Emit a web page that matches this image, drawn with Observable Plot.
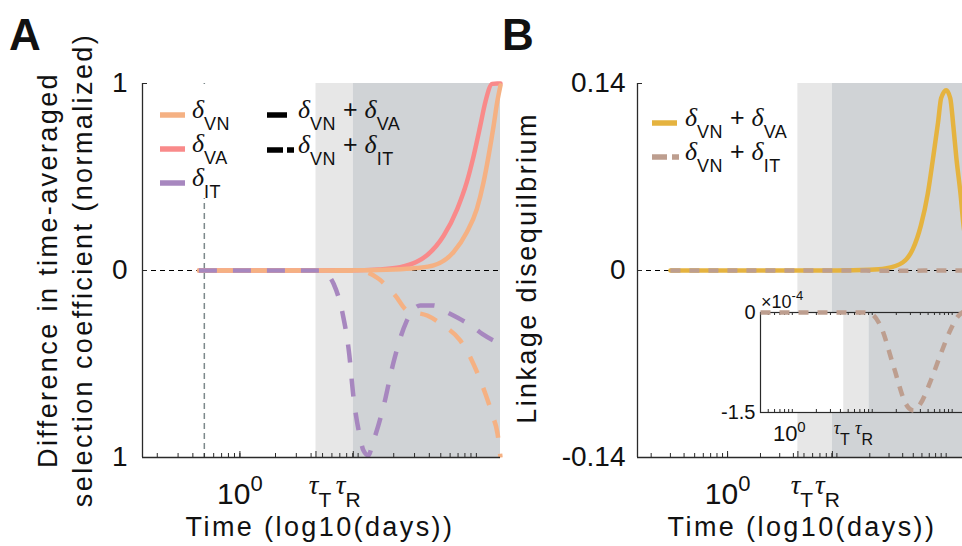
<!DOCTYPE html>
<html><head><meta charset="utf-8">
<script src="https://cdn.jsdelivr.net/npm/d3@7"></script>
<script src="https://cdn.jsdelivr.net/npm/@observablehq/plot@0.6"></script>
<style>
html,body{margin:0;padding:0;background:#fff;}
#fig{position:relative;width:962px;height:546px;overflow:hidden;background:#fff;}
#fig svg{max-width:none;position:absolute;}
</style></head>
<body><div id="fig"></div>
<script>
// ================= DATA =================
const tauT = 4.4, tauR = 9.1;          // transition times (days)
const tMark = 0.5;                      // dashed vertical marker (days)
const xDomain = [0.15, 160];
const insetXDomain = [0.4, 160];

// Panel A — solid: scenario δVN + δVA
const tA_VN_solid = [0.45, 3, 10, 20, 31, 43.5, 64, 83, 101, 115, 127, 140, 150, 160];
const vA_VN_solid = [0, 0, 0.001, 0.005, 0.013, 0.027, 0.098, 0.205, 0.33, 0.472, 0.615, 0.775, 0.9, 0.99];
const tA_VA_solid = [0.45, 3, 10, 15, 22.7, 31, 38, 53, 69, 83, 95, 108, 119, 136, 150, 160];
const vA_VA_solid = [0, 0, 0.002, 0.006, 0.018, 0.045, 0.08, 0.187, 0.33, 0.472, 0.615, 0.775, 0.9, 0.998, 1.0, 1.0];
// Panel A — dashed: scenario δVN + δIT
const tA_VN_dash = [0.45, 3, 10, 11.9, 14.8, 20.6, 26, 38.4, 52.5, 73, 89, 104, 119, 137, 151, 160];
const vA_VN_dash = [0, 0, 0, -0.01, -0.043, -0.134, -0.214, -0.241, -0.294, -0.374, -0.465, -0.561, -0.658, -0.775, -0.872, -1.0];
const tA_IT_dash = [0.45, 3, 4.9, 5.5, 6.2, 7.4, 8.4, 9.1, 10.3, 11.1, 12.2, 13.3, 16.6, 19.7, 25.5, 33.5, 43.5, 52.8, 94, 112, 160];
const vA_IT_dash = [0, 0, 0, -0.02, -0.071, -0.232, -0.445, -0.668, -0.882, -0.963, -0.989, -0.923, -0.713, -0.503, -0.276, -0.187, -0.187, -0.214, -0.303, -0.339, -0.392];

// Panel B — linkage disequilibrium
const tB_VA = [0.3, 10, 20, 27.8, 40, 49.5, 58.8, 68, 75.8, 84.3, 89.9, 100, 109, 116, 124, 135, 144, 160];
const vB_VA = [0, 0, 0.0005, 0.0015, 0.006, 0.016, 0.034, 0.058, 0.084, 0.111, 0.129, 0.135, 0.129, 0.109, 0.084, 0.058, 0.034, 0.012];
const tB_IT = [0.3, 5, 8.8, 12.8, 18.6, 26.3, 29, 33, 40, 54, 72, 96, 116, 134, 160];
const vB_IT_e4 = [0, 0, 0, -0.21, -0.82, -1.37, -1.44, -1.47, -1.37, -1.02, -0.62, -0.25, -0.07, 0, 0.03]; // ×10^-4
const ldScale = 1e-4;

// ticks & labels
const xTicksMain = [1, tauT, tauR];
const xTickLabels = ["10^0", "tauT", "tauR"];
const yTicksA = [-1, 0, 1];
const yTickLabelsA = ["1", "0", "1"];
const yTicksB = [-0.14, 0, 0.14];
const yTickLabelsB = ["-0.14", "0", "0.14"];
const yTicksInset = [-1.5, 0];
const yTickLabelsInset = ["-1.5", "0"];

// ================= STYLE =================
const C = {vn: "#f5b183", va: "#f98a8a", it: "#a787bf", ldVA: "#e5b33f", ldIT: "#bd9e8f",
           light: "#e7e7e7", dark: "#d0d3d6", axis: "#2a2a2a", mark: "#7d898b"};
const sans = "'Liberation Sans', Arial, Helvetica, sans-serif";
const serif = "'Liberation Serif', 'Times New Roman', serif";
const fig = document.getElementById("fig");
const NS = "http://www.w3.org/2000/svg";

function place(el, left, top) { el.style.left = left + "px"; el.style.top = top + "px"; fig.appendChild(el); return el; }
function logMinor(dom) { const out = []; for (let k = -2; k <= 3; k++) for (let n = 1; n <= 9; n++) { const v = +(n * 10 ** k).toPrecision(6); if (v > dom[0] * 1.0001 && v < dom[1] * 0.9999) out.push(v); } return out; }
const rows = (t, v, s = 1) => t.map((x, i) => ({t: x, v: v[i] * s}));
const lineOf = (t, v, o, s = 1) => Plot.line(rows(t, v, s), {x: "t", y: "v", curve: "monotone-x", strokeWidth: 4.5, ...o});
const label = (ticks, labels) => d => labels[ticks.indexOf(d)];
// x tick labels as text marks anchored at the frame bottom
const xLabels = (fs) => Plot.text(xTicksMain, {x: xTicksMain, text: xTickLabels, frameAnchor: "bottom", fontSize: fs});

function richX(svg, specs) {
  svg.querySelectorAll("text").forEach(el => {
    const key = el.textContent.trim();
    if (!Object.prototype.hasOwnProperty.call(specs, key)) return;
    const s = specs[key];
    while (el.firstChild) el.removeChild(el.firstChild);
    el.removeAttribute("dy");
    el.setAttribute("y", s.y); el.setAttribute("x", s.x || 0);
    el.setAttribute("text-anchor", "middle");
    for (const p of s.parts) { const ts = document.createElementNS(NS, "tspan"); ts.textContent = p.t; for (const k in p) if (k !== "t") ts.setAttribute(k, p[k]); el.appendChild(ts); }
  });
}
const tau = (s, dx, big) => ({y: big ? 36 : 21, x: dx, parts: [
  {t: "τ", "font-family": serif, "font-style": "italic", "font-size": big ? 27 : 18},
  {t: s, "font-size": big ? 21 : 16, dy: big ? 13 : 11}]});
const specMain = {
  "10^0": {y: 46, parts: [{t: "10", "font-size": 30}, {t: "0", "font-size": 22, dy: -13}]},
  "tauT": tau("T", 4, true), "tauR": tau("R", -5, true)};
const specInset = {
  "10^0": {y: 28, x: -3, parts: [{t: "10", "font-size": 22}, {t: "0", "font-size": 15, dy: -9}]},
  "tauT": tau("T", -2, false), "tauR": tau("R", -5, false)};

// ================= PANEL A =================
const fA = {w: 358, h: 374};
const plotA = Plot.plot({
  width: 510, height: 546, marginLeft: 142, marginRight: 10, marginTop: 83, marginBottom: 89,
  x: {type: "log", domain: xDomain, axis: null}, y: {domain: [-1, 1]},
  style: {background: "transparent", fontFamily: sans, color: "#111", overflow: "visible"},
  marks: [
    Plot.rect([[tauT, tauR]], {x1: d => d[0], x2: d => d[1], fill: C.light}),
    Plot.rect([[tauR, xDomain[1]]], {x1: d => d[0], x2: d => d[1], fill: C.dark}),
    Plot.ruleY([0], {stroke: "#000", strokeWidth: 1, strokeDasharray: "5,4"}),
    Plot.ruleX([tMark], {stroke: C.mark, strokeWidth: 1.5, strokeDasharray: "6,4"}),
    lineOf(tA_VA_solid, vA_VA_solid, {stroke: C.va}),
    lineOf(tA_VN_solid, vA_VN_solid, {stroke: C.vn}),
    lineOf(tA_VN_dash, vA_VN_dash, {stroke: C.vn, strokeDasharray: "18,16", strokeLinecap: "butt"}),
    lineOf(tA_IT_dash, vA_IT_dash, {stroke: C.it, strokeDasharray: "18,16", strokeLinecap: "butt"}),
    Plot.tickX(logMinor(xDomain), {x: d => d, stroke: C.axis, insetTop: fA.h - 4}),
    Plot.tickX(xTicksMain, {x: d => d, stroke: C.axis, insetTop: fA.h - 6}),
    Plot.tickY(yTicksA, {y: d => d, stroke: C.axis, insetRight: fA.w - 5}),
    Plot.ruleX([xDomain[0]], {stroke: C.axis, strokeWidth: 1.3}),
    Plot.ruleY([-1], {stroke: C.axis, strokeWidth: 1.3}),
    xLabels(30),
    Plot.axisY({ticks: yTicksA, tickFormat: label(yTicksA, yTickLabelsA), tickSize: 0, tickPadding: 15, fontSize: 28, label: null})
  ]
});
richX(plotA, specMain);
place(plotA, 0, 0);

// ================= PANEL B =================
const fB = {w: 331, h: 374};
const plotB = Plot.plot({
  width: 500, height: 546, marginLeft: 157, marginRight: 12, marginTop: 83, marginBottom: 89,
  x: {type: "log", domain: xDomain, axis: null}, y: {domain: [-0.14, 0.14]},
  style: {background: "transparent", fontFamily: sans, color: "#111", overflow: "visible"},
  marks: [
    Plot.rect([[tauT, tauR]], {x1: d => d[0], x2: d => d[1], fill: C.light}),
    Plot.rect([[tauR, xDomain[1]]], {x1: d => d[0], x2: d => d[1], fill: C.dark}),
    Plot.ruleY([0], {stroke: "#000", strokeWidth: 1, strokeDasharray: "5,4"}),
    lineOf(tB_VA, vB_VA, {stroke: C.ldVA}),
    lineOf(tB_IT, vB_IT_e4, {stroke: C.ldIT, strokeDasharray: "10,9", strokeLinecap: "butt"}, ldScale),
    Plot.tickX(logMinor(xDomain), {x: d => d, stroke: C.axis, insetTop: fB.h - 4}),
    Plot.tickX(xTicksMain, {x: d => d, stroke: C.axis, insetTop: fB.h - 6}),
    Plot.tickY(yTicksB, {y: d => d, stroke: C.axis, insetRight: fB.w - 5}),
    Plot.ruleX([xDomain[0]], {stroke: C.axis, strokeWidth: 1.3}),
    Plot.ruleY([-0.14], {stroke: C.axis, strokeWidth: 1.3}),
    xLabels(30),
    Plot.axisY({ticks: yTicksB, tickFormat: label(yTicksB, yTickLabelsB), tickSize: 0, tickPadding: 12, fontSize: 28, letterSpacing: 1, label: null})
  ]
});
richX(plotB, specMain);
place(plotB, 480, 0);

// ================= INSET =================
const fI = {w: 208, h: 100};
const plotI = Plot.plot({
  width: 280, height: 180, marginLeft: 60, marginRight: 12, marginTop: 32, marginBottom: 48,
  x: {type: "log", domain: insetXDomain, clamp: true, axis: null}, y: {domain: [-1.5, 0]},
  style: {background: "transparent", fontFamily: sans, color: "#111", overflow: "visible"},
  marks: [
    Plot.frame({fill: "white"}),
    Plot.rect([[tauT, tauR]], {x1: d => d[0], x2: d => d[1], fill: C.light}),
    Plot.rect([[tauR, insetXDomain[1]]], {x1: d => d[0], x2: d => d[1], fill: C.dark}),
    Plot.tickX(logMinor(insetXDomain), {x: d => d, stroke: C.axis, insetTop: fI.h - 3}),
    Plot.tickX(logMinor(insetXDomain), {x: d => d, stroke: C.axis, insetBottom: fI.h - 3}),
    Plot.frame({stroke: C.axis, strokeWidth: 1.2}),
    lineOf(tB_IT, vB_IT_e4, {stroke: C.ldIT, strokeDasharray: "10,9", strokeLinecap: "butt"}),
    xLabels(22),
    Plot.axisY({ticks: yTicksInset, tickFormat: label(yTicksInset, yTickLabelsInset), tickSize: 0, tickPadding: 5, fontSize: 20, label: null})
  ]
});
richX(plotI, specInset);
place(plotI, 700, 280);

// ================= TEXT OVERLAY (titles, legends) =================
const ov = d3.create("svg").attr("width", 962).attr("height", 546)
  .style("left", "0px").style("top", "0px").style("font-family", sans).style("fill", "#111");
function rich(x, y, parts, attrs = {}) {
  const t = ov.append("text").attr("x", x).attr("y", y);
  for (const k in attrs) t.attr(k, attrs[k]);
  for (const p of parts) { const s = t.append("tspan").text(p.t); for (const k in p) if (k !== "t") s.attr(k, p[k]); }
  return t;
}
const dl = {t: "δ", "font-family": serif, "font-style": "italic", "font-size": 26};
const sub = (t) => ({t, "font-size": 18, dy: 12, "letter-spacing": 0.5});
const plus = {t: " + ", "font-size": 25, dy: -12};

// panel letters
ov.append("text").attr("x", 9).attr("y", 50).attr("font-size", 44).attr("font-weight", "bold").text("A");
ov.append("text").attr("x", 502).attr("y", 50).attr("font-size", 44).attr("font-weight", "bold").text("B");

// axis titles
const title = {"font-size": 27, "letter-spacing": 2.4, "text-anchor": "middle"};
rich(0, 0, [{t: "Difference in time-averaged"}], {...title, transform: "translate(57,270) rotate(-90)"});
rich(0, 0, [{t: "selection coefficient (normalized)"}], {...title, transform: "translate(92,270) rotate(-90)"});
rich(0, 0, [{t: "Linkage disequilbrium"}], {...title, transform: "translate(536,268) rotate(-90)"});
rich(320, 536, [{t: "Time (log10(days))"}], title);
rich(802, 536, [{t: "Time (log10(days))"}], title);

// legend A (colours) with an opaque background
const legA = [{c: C.vn, s: "VN"}, {c: C.va, s: "VA"}, {c: C.it, s: "IT"}];
const legAy = [115, 149, 183];
ov.append("rect").attr("x", 152).attr("y", 84).attr("width", 92).attr("height", 114).attr("fill", "white");
legA.forEach((d, i) => {
  ov.append("line").attr("x1", 160).attr("x2", 185).attr("y1", legAy[i]).attr("y2", legAy[i]).attr("stroke", d.c).attr("stroke-width", 5.5);
  rich(192, legAy[i] + 3, [dl, sub(d.s)]);
});
// legend A (line styles)
const legStyleY = [115, 150];
ov.append("line").attr("x1", 267).attr("x2", 287).attr("y1", legStyleY[0]).attr("y2", legStyleY[0]).attr("stroke", "#000").attr("stroke-width", 5.5);
ov.append("line").attr("x1", 267).attr("x2", 294).attr("y1", legStyleY[1]).attr("y2", legStyleY[1]).attr("stroke", "#000").attr("stroke-width", 5.5).attr("stroke-dasharray", "16,4");
rich(298, legStyleY[0] + 3, [dl, sub("VN"), plus, dl, sub("VA")]);
rich(298, legStyleY[1] + 3, [dl, sub("VN"), plus, dl, sub("IT")]);

// legend B
const legBy = [123, 157];
ov.append("line").attr("x1", 652).attr("x2", 677).attr("y1", legBy[0]).attr("y2", legBy[0]).attr("stroke", C.ldVA).attr("stroke-width", 5.5);
ov.append("line").attr("x1", 652).attr("x2", 679).attr("y1", legBy[1]).attr("y2", legBy[1]).attr("stroke", C.ldIT).attr("stroke-width", 5.5).attr("stroke-dasharray", "15,5");
rich(685, legBy[0] + 3, [dl, sub("VN"), plus, dl, sub("VA")]);
rich(685, legBy[1] + 3, [dl, sub("VN"), plus, dl, sub("IT")]);

// inset exponent
rich(761, 308, [{t: "×10", "font-size": 18}, {t: "-4", "font-size": 13, dy: -8}]);

fig.appendChild(ov.node());
</script>
</body></html>
